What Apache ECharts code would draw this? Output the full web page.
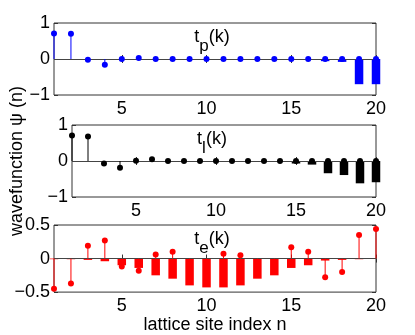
<!DOCTYPE html>
<html>
<head>
<meta charset="utf-8">
<script src="https://cdn.jsdelivr.net/npm/echarts@6/dist/echarts.min.js"></script>
<style>
html, body { margin: 0; padding: 0; background: #fff; }
#chart { width: 415px; height: 335px; }
</style>
</head>
<body>
<div id="chart"></div>
<script>
// lattice sites n = 1..20
var sites = [1, 2, 3, 4, 5, 6, 7, 8, 9, 10, 11, 12, 13, 14, 15, 16, 17, 18, 19, 20];
var xTicks = [5, 10, 15, 20];

// t_p(k): stems and bars
var tpStem = [0.71, 0.70, -0.02, -0.16, 0, 0.03, 0, 0, 0, 0, 0, 0, 0, 0, 0, 0, 0, 0, 0, 0];
var tpBar = [0, 0, 0, 0, 0, 0, 0, 0, 0, 0, 0, 0, 0, 0, 0, 0, -0.06, -0.08, -0.7, -0.7];

// t_l(k)
var tlStem = [0.71, 0.68, -0.07, -0.19, 0.01, 0.05, 0, 0, 0, 0, 0, 0, 0, 0, 0, 0, 0, 0, 0, 0];
var tlBar = [0, 0, -0.02, -0.02, 0, 0, 0, 0, 0, 0, 0, 0, 0, 0, -0.07, -0.1, -0.34, -0.39, -0.62, -0.59];

// t_e(k)
var teStem = [-0.45, -0.37, 0.19, 0.27, -0.12, -0.18, 0.06, 0.10, -0.1, -0.1, 0.07, 0.05, -0.1, -0.1, 0.17, 0.10, -0.28, -0.20, 0.35, 0.44];
var teBar = [-0.01, -0.01, -0.02, -0.04, -0.10, -0.14, -0.25, -0.30, -0.40, -0.43, -0.43, -0.40, -0.30, -0.25, -0.14, -0.10, -0.03, -0.02, -0.01, 0];

var font = '"Liberation Sans", Arial, sans-serif';
var panels = [
    { stem: tpStem, bar: tpBar, color: '#0000ff', top: 23, height: 72, min: -1, max: 1, step: 1, sub: 'p' },
    { stem: tlStem, bar: tlBar, color: '#000000', top: 125, height: 72, min: -1, max: 1, step: 1, sub: 'l' },
    { stem: teStem, bar: teBar, color: '#ff0000', top: 225, height: 73, min: -0.5, max: 0.5, step: 0.5, sub: 'e' }
];

function pairs(vals) {
    return sites.map(function (n, i) { return [n, vals[i]]; });
}

function minus(v) {
    return String(v).replace('-', '\u2212');
}

var grid = [], xAxis = [], yAxis = [], series = [], title = [];

panels.forEach(function (p, i) {
    grid.push({ left: 54, right: 39, top: p.top, height: p.height, show: true, borderColor: '#333', borderWidth: 1 });

    // bottom axis with labels, top axis just ticks
    xAxis.push({
        type: 'value', gridIndex: i, min: 1, max: 20, position: 'bottom',
        axisLine: { show: false }, splitLine: { show: false },
        axisTick: { inside: true, length: 4, customValues: xTicks, lineStyle: { color: '#333' } },
        axisLabel: { customValues: xTicks, color: '#000', fontSize: 18, fontFamily: font, margin: 5 },
        name: i === 2 ? 'lattice site index n' : '', nameLocation: 'middle', nameGap: 20,
        nameTextStyle: { color: '#000', fontSize: 18, fontFamily: font }
    });
    xAxis.push({
        type: 'value', gridIndex: i, min: 1, max: 20, position: 'top',
        axisLine: { show: false }, splitLine: { show: false },
        axisTick: { inside: true, length: 4, customValues: xTicks, lineStyle: { color: '#333' } },
        axisLabel: { show: false }
    });

    yAxis.push({
        type: 'value', gridIndex: i, min: p.min, max: p.max, interval: p.step, position: 'left',
        axisLine: { show: false }, splitLine: { show: false },
        axisTick: { inside: true, length: 4, lineStyle: { color: '#333' } },
        axisLabel: { color: '#000', fontSize: 18, fontFamily: font, margin: 4, formatter: minus },
        name: i === 1 ? 'wavefunction \u03c8 (n)' : '', nameLocation: 'middle', nameGap: 46,
        nameTextStyle: { color: '#000', fontSize: 18, fontFamily: font }
    });
    yAxis.push({
        type: 'value', gridIndex: i, min: p.min, max: p.max, interval: p.step, position: 'right',
        axisLine: { show: false }, splitLine: { show: false },
        axisTick: { inside: true, length: 4, lineStyle: { color: '#333' } },
        axisLabel: { show: false }
    });

    series.push({
        type: 'bar', xAxisIndex: i * 2, yAxisIndex: i * 2,
        data: pairs(p.bar), barWidth: 8.5,
        itemStyle: { color: p.color },
        markLine: {
            silent: true, symbol: 'none', label: { show: false },
            lineStyle: { color: '#444', type: 'solid', width: 1 },
            data: [{ yAxis: 0 }]
        }
    });

    series.push({
        type: 'custom', xAxisIndex: i * 2, yAxisIndex: i * 2,
        data: pairs(p.stem), clip: false, z: 5,
        renderItem: function (params, api) {
            var x = api.value(0);
            var base = api.coord([x, 0]);
            var tip = api.coord([x, api.value(1)]);
            return {
                type: 'group',
                children: [
                    { type: 'line', shape: { x1: base[0], y1: base[1], x2: tip[0], y2: tip[1] }, style: { stroke: p.color, lineWidth: 1 } },
                    { type: 'circle', shape: { cx: tip[0], cy: tip[1], r: 3 }, style: { fill: p.color } }
                ]
            };
        }
    });

    title.push({
        text: '{a|t}{s|' + p.sub + '}{a|(k)}',
        left: 212, top: p.top - 3.5, textAlign: 'center', padding: 0,
        textStyle: {
            rich: {
                a: { fontSize: 18, fontFamily: font, color: '#000', fontWeight: 'normal' },
                s: { fontSize: 17, fontFamily: font, color: '#000', fontWeight: 'normal', padding: [18, 0, 0, 0] }
            }
        }
    });
});

var chart = echarts.init(document.getElementById('chart'));
chart.setOption({
    animation: false,
    title: title,
    grid: grid,
    xAxis: xAxis,
    yAxis: yAxis,
    series: series
});
</script>
</body>
</html>
